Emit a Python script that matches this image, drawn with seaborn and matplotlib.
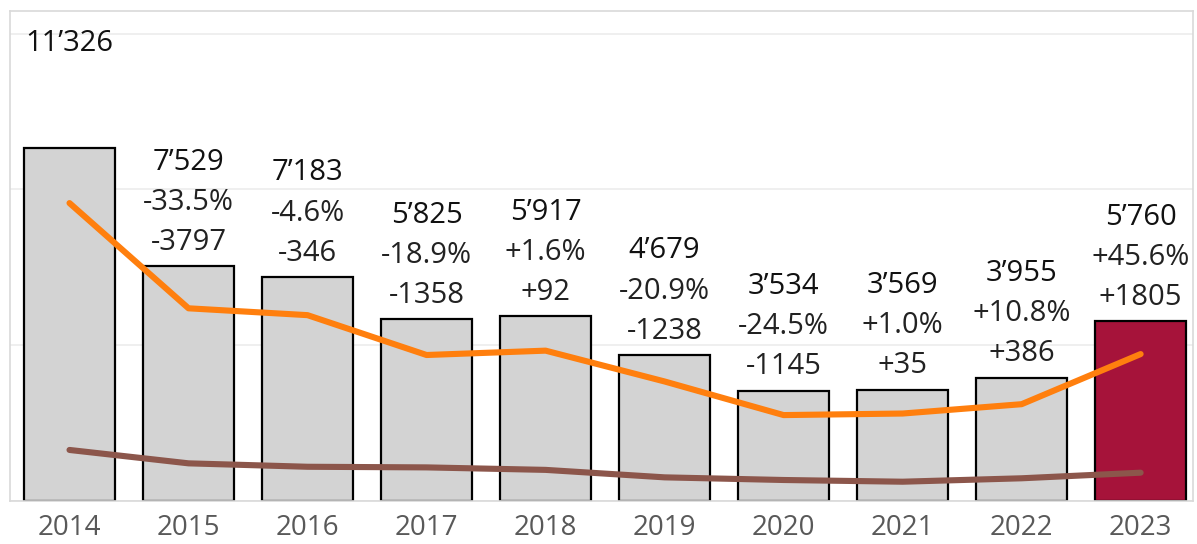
import numpy as np
import pandas as pd
import seaborn as sns
from matplotlib import pyplot as plt
from matplotlib.ticker import FixedLocator

# values
years = ['2014', '2015', '2016', '2017', '2018', '2019', '2020', '2021', '2022', '2023']
totals = [11326, 7529, 7183, 5825, 5917, 4679, 3534, 3569, 3955, 5760]
pct_change = [None, -33.5, -4.6, -18.9, 1.6, -20.9, -24.5, 1.0, 10.8, 45.6]
abs_change = [None, -3797, -346, -1358, 92, -1238, -1145, 35, 386, 1805]
orange_series = [9560, 6180, 5960, 4680, 4820, 3830, 2750, 2800, 3100, 4710]
brown_series = [1630, 1200, 1090, 1070, 990, 750, 665, 610, 720, 900]

df = pd.DataFrame({'year': years, 'total': totals})

sns.set_theme(style='white')
plt.rcParams['font.family'] = ['Open Sans', 'DejaVu Sans']

fig = plt.figure(figsize=(11.97, 5.44), dpi=100)
ax = fig.add_axes([10 / 1197, (544 - 500.7) / 544, 1183 / 1197, (500.7 - 11) / 544])

bar_colors = ['#d3d3d3'] * (len(years) - 1) + ['#a6133a']
sns.barplot(data=df, x='year', y='total', hue='year', palette=bar_colors,
            legend=False, width=0.76, edgecolor='black', linewidth=1.6,
            saturation=1, ax=ax, zorder=2)

x = np.arange(len(years))
ax.plot(x, orange_series, color='#ff7f0e', lw=4.4, solid_capstyle='round', zorder=3)
ax.plot(x, brown_series, color='#8c564b', lw=4.4, solid_capstyle='round', zorder=3)

# labels above bars: total, % change, abs change
for i, v in enumerate(totals):
    ax.annotate(f"{v:,}".replace(',', '\u2019'), (i, v), xytext=(0, 75),
                textcoords='offset points', ha='center', va='center',
                fontsize=21, fontweight='medium', color='#111111', zorder=4)
    if pct_change[i] is not None:
        ax.annotate(f"{pct_change[i]:+.1f}%", (i, v), xytext=(0, 46),
                    textcoords='offset points', ha='center', va='center',
                    fontsize=21, color='#222222', zorder=4)
        ax.annotate(f"{abs_change[i]:+d}", (i, v), xytext=(0, 17.3),
                    textcoords='offset points', ha='center', va='center',
                    fontsize=21, color='#222222', zorder=4)

ax.set_xlim(-0.5, 9.44)
ax.set_ylim(0, 15730)
ax.set_yticks([0, 5000, 10000, 15000])
ax.set_yticklabels([])
ax.yaxis.grid(True, color='#ececec', lw=1.2, zorder=0)
ax.tick_params(axis='y', length=0)
ax.set_xlabel('')
ax.set_ylabel('')

ax.tick_params(axis='x', which='major', length=0, pad=9.5, labelsize=20, labelcolor='#595959')
ax.xaxis.set_minor_locator(FixedLocator(x[:-1] + 0.5))
ax.tick_params(axis='x', which='minor', length=6, width=1, color='#e0e0e0')

for s in ax.spines.values():
    s.set_color('#d9d9d9')
    s.set_linewidth(1.2)

fig.savefig('out.png', dpi=100)
